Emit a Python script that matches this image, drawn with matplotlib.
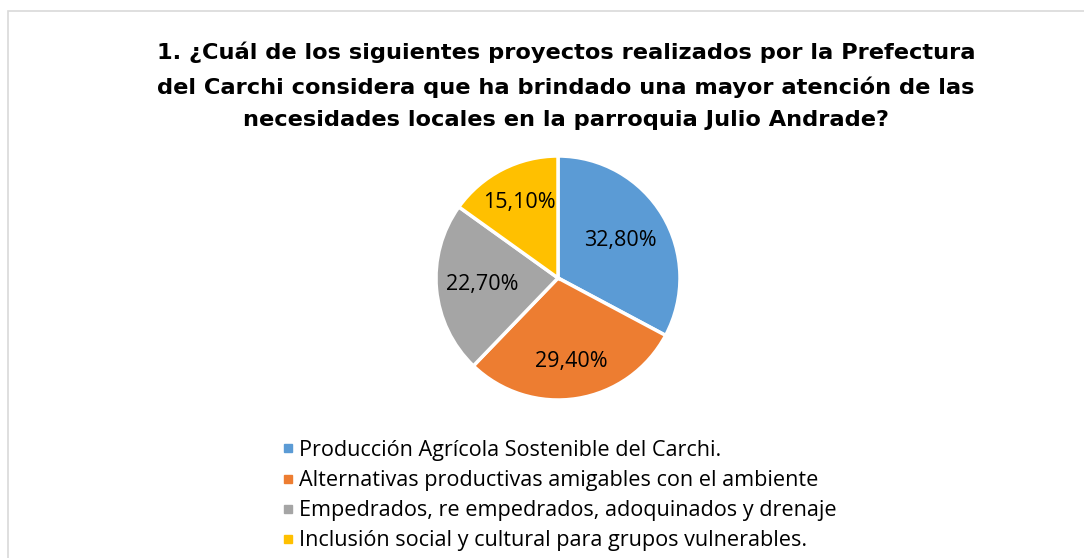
import matplotlib
matplotlib.use("Agg")
import matplotlib.pyplot as plt
from matplotlib.patches import Rectangle
from matplotlib.lines import Line2D
import numpy as np

title = ("1. ¿Cuál de los siguientes proyectos realizados por la Prefectura\n"
         "del Carchi considera que ha brindado una mayor atención de las\n"
         "necesidades locales en la parroquia Julio Andrade?")
categories = [
    "Producción Agrícola Sostenible del Carchi.",
    "Alternativas productivas amigables con el ambiente",
    "Empedrados, re empedrados, adoquinados y drenaje",
    "Inclusión social y cultural para grupos vulnerables.",
]
values = [32.8, 29.4, 22.7, 15.1]
value_labels = ["32,80%", "29,40%", "22,70%", "15,10%"]
colors = ["#5B9BD5", "#ED7D31", "#A5A5A5", "#FFC000"]
label_dist = [0.60, 0.69, 0.62, 0.70]

W, H = 1084, 558
fig = plt.figure(figsize=(W / 100, H / 100), dpi=100)
fig.patch.set_facecolor("white")

# chart border
fig.patches.append(Rectangle((8 / W, -0.1), 1.2, 1 - 11 / H + 0.1, transform=fig.transFigure,
                             fill=False, edgecolor="#D9D9D9", linewidth=1.2))

fig.text(566 / W, 1 - 86 / H, title, ha="center", va="center", fontsize=16.2,
         fontweight="bold", family="DejaVu Sans", linespacing=1.75, color="black")

R = 122
cx, cy = 558, 278
ax = fig.add_axes([(cx - R) / W, 1 - (cy + R) / H, 2 * R / W, 2 * R / H])
wedges, texts = ax.pie(values, colors=colors, startangle=90, counterclock=False,
                       wedgeprops=dict(edgecolor="white", linewidth=2.5), radius=1.0)
for w, lab, d in zip(wedges, value_labels, label_dist):
    ang = np.deg2rad((w.theta1 + w.theta2) / 2)
    ax.text(d * np.cos(ang), d * np.sin(ang), lab, ha="center", va="center",
            fontsize=15.5, family="Open Sans", color="black")
ax.set_xlim(-1, 1)
ax.set_ylim(-1, 1)
ax.set_aspect("equal")
ax.axis("off")

handles = [Line2D([0], [0], marker="s", linestyle="none", markersize=6,
                  markerfacecolor=c, markeredgecolor=c) for c in colors]
fig.legend(handles, categories, loc="upper left", bbox_to_anchor=(281 / W, 1 - 440 / H),
           frameon=False, prop=dict(family="Open Sans", size=15.6), handlelength=0.6,
           handletextpad=0.25, labelspacing=0.42, borderpad=0, borderaxespad=0)

fig.savefig("out.png", dpi=100, facecolor="white")
